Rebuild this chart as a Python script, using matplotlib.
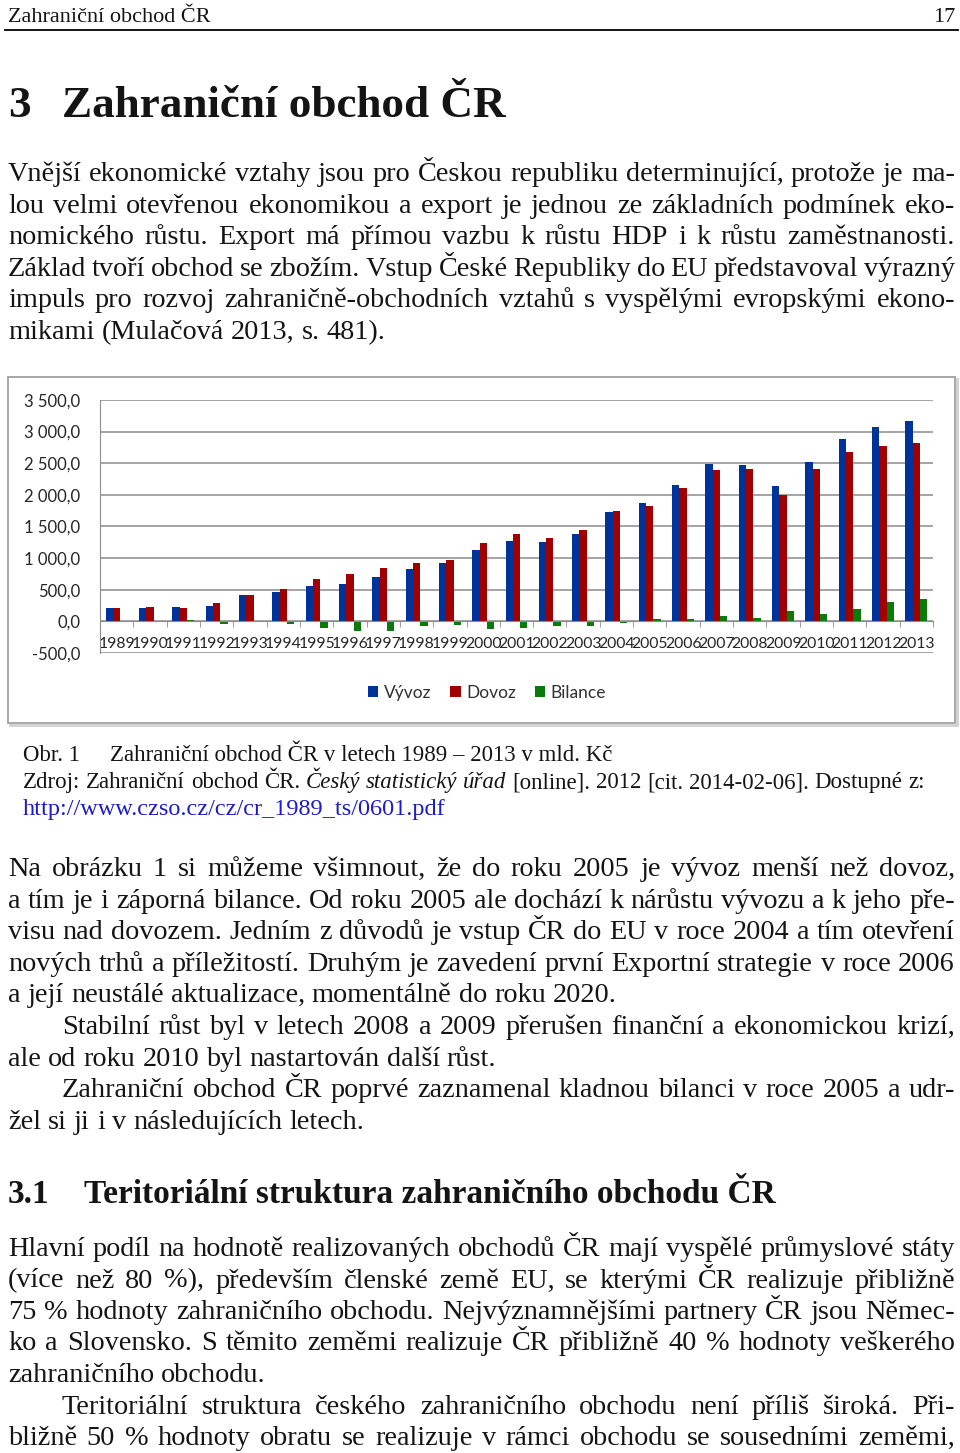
import numpy as np
import matplotlib
matplotlib.use("Agg")
from matplotlib import pyplot as plt
from matplotlib.patches import Rectangle
from matplotlib.ticker import FuncFormatter, FixedLocator

W, H = 960, 1453

years = [str(y) for y in range(1989, 2014)]
vyvoz = [205, 205, 221, 242, 421, 463, 563, 595, 695, 832, 916, 1121, 1274,
         1253, 1374, 1726, 1879, 2153, 2489, 2474, 2137, 2526, 2879, 3079, 3168]
dovoz = [205, 221, 205, 290, 421, 505, 663, 747, 847, 916, 963, 1237, 1389,
         1321, 1442, 1747, 1832, 2105, 2389, 2405, 2005, 2405, 2679, 2779, 2816]
bilance = [5, -15, 15, -40, 0, -35, -110, -147, -147, -79, -50, -116, -110,
           -70, -70, -20, 40, 45, 90, 55, 158, 121, 189, 311, 358]
series_names = ["Vývoz", "Dovoz", "Bilance"]
series_colors = ["#003399", "#a00000", "#0a7a0a"]

para1 = [
    "Vnější ekonomické vztahy jsou pro Českou republiku determinující, protože je ma-",
    "lou velmi otevřenou ekonomikou a export je jednou ze základních podmínek eko-",
    "nomického růstu. Export má přímou vazbu k růstu HDP i k růstu zaměstnanosti.",
    "Základ tvoří obchod se zbožím. Vstup České Republiky do EU představoval výrazný",
    "impuls pro rozvoj zahraničně-obchodních vztahů s vyspělými evropskými ekono-",
    "mikami (Mulačová 2013, s. 481).",
]
para2 = [
    "Na obrázku 1 si můžeme všimnout, že do roku 2005 je vývoz menší než dovoz,",
    "a tím je i záporná bilance. Od roku 2005 ale dochází k nárůstu vývozu a k jeho pře-",
    "visu nad dovozem. Jedním z důvodů je vstup ČR do EU v roce 2004 a tím otevření",
    "nových trhů a příležitostí. Druhým je zavedení první Exportní strategie v roce 2006",
    "a její neustálé aktualizace, momentálně do roku 2020.",
    "Stabilní růst byl v letech 2008 a 2009 přerušen finanční a ekonomickou krizí,",
    "ale od roku 2010 byl nastartován další růst.",
    "Zahraniční obchod ČR poprvé zaznamenal kladnou bilanci v roce 2005 a udr-",
    "žel si ji i v následujících letech.",
]
para3 = [
    "Hlavní podíl na hodnotě realizovaných obchodů ČR mají vyspělé průmyslové státy",
    "(více než 80 %), především členské země EU, se kterými ČR realizuje přibližně",
    "75 % hodnoty zahraničního obchodu. Nejvýznamnějšími partnery ČR jsou Němec-",
    "ko a Slovensko. S těmito zeměmi realizuje ČR přibližně 40 % hodnoty veškerého",
    "zahraničního obchodu.",
    "Teritoriální struktura českého zahraničního obchodu není příliš široká. Při-",
    "bližně 50 % hodnoty obratu se realizuje v rámci obchodu se sousedními zeměmi,",
]

serif = "Liberation Serif"
body_size = 20.3
ink = "#141414"

fig = plt.figure(figsize=(W / 100, H / 100), dpi=100)
page = fig.add_axes([0, 0, 1, 1])
page.set_xlim(0, W)
page.set_ylim(H, 0)
page.axis("off")
renderer = fig.canvas.get_renderer()


def width_of(t):
    return t.get_window_extent(renderer).width


def put_words(segs, y, x0, x1=None, size=body_size, **kw):
    # segs: list of (word, style); justify between x0 and x1 if x1 given
    arts = []
    for word, style in segs:
        t = page.text(0, y, word, fontsize=size, family=serif, style=style,
                      color=kw.get("color", ink), weight=kw.get("weight", "normal"),
                      va="baseline", ha="left")
        arts.append(t)
    widths = [width_of(t) for t in arts]
    if x1 is not None and len(arts) > 1:
        gap = (x1 - x0 - sum(widths)) / (len(arts) - 1)
    else:
        a = page.text(0, 0, "x x", fontsize=size, family=serif)
        b = page.text(0, 0, "xx", fontsize=size, family=serif)
        gap = width_of(a) - width_of(b)
        a.remove()
        b.remove()
    x = x0
    for t, w in zip(arts, widths):
        t.set_x(x)
        x += w + gap


def put_line(text, y, x0=8, justify=True, **kw):
    segs = [(w, "normal") for w in text.split(" ")]
    put_words(segs, y, x0, 955 if justify else None, **kw)


# running header
page.text(8, 22, "Zahraniční obchod ČR", fontsize=16, family=serif, color=ink, va="baseline")
page.text(955, 22, "17", fontsize=16, family=serif, color=ink, va="baseline", ha="right")
page.plot([5, 958], [30, 30], color="black", lw=1.3)

# chapter title
page.text(8, 117, "3", fontsize=32.5, family=serif, weight="bold", color=ink, va="baseline")
page.text(62, 117, "Zahraniční obchod ČR", fontsize=32.5, family=serif, weight="bold",
          color=ink, va="baseline")

for i, line in enumerate(para1):
    put_line(line, 181 + i * 31.6, justify=i < len(para1) - 1)

# chart frame
page.add_patch(Rectangle((10, 379), 947, 346, facecolor="none", edgecolor="#d0d0d0", lw=2))
page.add_patch(Rectangle((8, 377), 947, 346, facecolor="white", edgecolor="#a8a8a8", lw=1.4))

ax = fig.add_axes([100 / W, 1 - 653 / H, 833 / W, 253 / H])
ax.set_facecolor("none")
x = np.arange(len(years))
bw = 0.22
for k, (vals, name, col) in enumerate(zip([vyvoz, dovoz, bilance], series_names, series_colors)):
    ax.bar(x + (k - 1) * bw, vals, bw, color=col, label=name, zorder=3)
ax.set_xlim(-0.5, len(years) - 0.5)
ax.set_ylim(-500, 3500)
ax.set_yticks(np.arange(-500, 3501, 500))
ax.yaxis.set_major_formatter(FuncFormatter(
    lambda v, p: f"{v:,.1f}".replace(",", " ").replace(".", ",")))
ax.grid(axis="y", color="#8c8c8c", lw=1.1, zorder=0)
for s in ["top", "right"]:
    ax.spines[s].set_visible(False)
ax.spines["left"].set_color("#8c8c8c")
ax.spines["bottom"].set_color("#8c8c8c")
ax.spines["bottom"].set_position(("data", 0))
ax.spines["bottom"].set_zorder(4)
ax.set_xticks(x)
ax.set_xticklabels(years)
ax.xaxis.set_minor_locator(FixedLocator(np.arange(-0.5, len(years), 1.0)))
ax.tick_params(axis="x", which="major", length=0, pad=11, labelsize=11.3, labelcolor="#262626")
ax.tick_params(axis="x", which="minor", length=4, color="#8c8c8c")
ax.tick_params(axis="y", length=0, pad=14, labelsize=12, labelcolor="#262626")
for lab in ax.get_xticklabels() + ax.get_yticklabels():
    lab.set_family("Lato")

fig.legend(loc="center", bbox_to_anchor=(487 / W, 1 - 693 / H), ncol=3, frameon=False,
           handlelength=0.6, handleheight=0.6, handletextpad=0.3, columnspacing=1.1,
           prop={"family": "Lato", "size": 12.5}, labelcolor="#303030")

# caption
cap = 16.5
page.text(23, 761, "Obr. 1", fontsize=cap, family=serif, color=ink, va="baseline")
page.text(110, 761, "Zahraniční obchod ČR v letech 1989 – 2013 v mld. Kč", fontsize=cap,
          family=serif, color=ink, va="baseline")
zdroj = [(w, "normal") for w in "Zdroj: Zahraniční obchod ČR.".split(" ")]
zdroj += [(w, "italic") for w in "Český statistický úřad".split(" ")]
zdroj += [(w, "normal") for w in "[online]. 2012 [cit. 2014-02-06]. Dostupné z:".split(" ")]
put_words(zdroj, 788, 23, None, size=cap)
page.text(23, 815, "http://www.czso.cz/cz/cr_1989_ts/0601.pdf", fontsize=17.5, family=serif,
          color="#1c1cc8", va="baseline")

last2 = {4, 6, 8}
indent2 = {5, 7}
for i, line in enumerate(para2):
    put_line(line, 876 + i * 31.6, x0=62 if i in indent2 else 8, justify=i not in last2)

page.text(8, 1203, "3.1", fontsize=24, family=serif, weight="bold", color=ink, va="baseline")
page.text(84, 1203, "Teritoriální struktura zahraničního obchodu ČR", fontsize=24,
          family=serif, weight="bold", color=ink, va="baseline")

for i, line in enumerate(para3):
    put_line(line, 1256 + i * 31.5, x0=62 if i == 5 else 8, justify=i != 4)

fig.savefig("out.png", dpi=100)
